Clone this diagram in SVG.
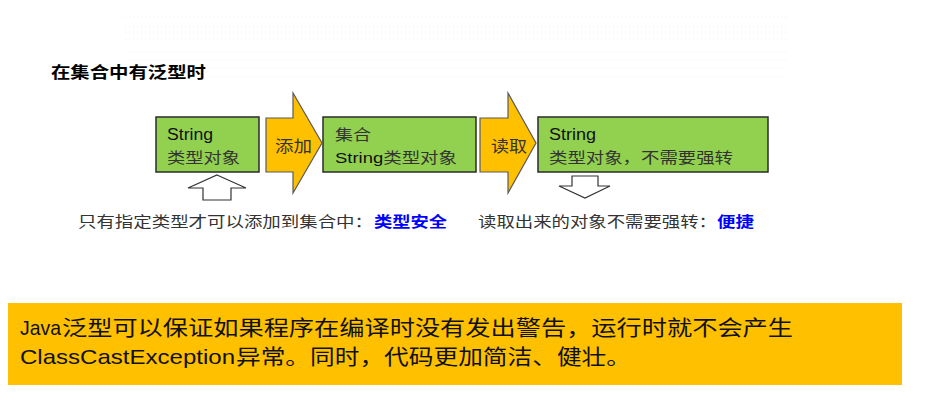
<svg xmlns="http://www.w3.org/2000/svg" width="930" height="405" viewBox="0 0 930 405">
<defs>
<style>
.bg{fill:#ffffff}
.dots{stroke:#f0d4f0;stroke-width:1;stroke-dasharray:1 3;opacity:0.45}
.box{fill:#92D050;stroke:#2b2b2b;stroke-width:1.5}
.blk{fill:#FFC000;stroke:#5a5a5a;stroke-width:1.2}
.hollow{fill:#ffffff;stroke:#333333;stroke-width:1.2}
.lat{font-family:"Liberation Sans",Arial,sans-serif;fill:#111111}
.cjk{font-family:"Noto Sans CJK SC","Liberation Sans",sans-serif;fill:#333333}
.title{font-family:"Noto Sans CJK SC","Liberation Sans",sans-serif;font-weight:bold;font-size:16px;fill:#000000}
.cap{font-family:"Noto Sans CJK SC","Liberation Sans",sans-serif;font-size:15px;fill:#333333}
.blue{fill:#0000ff;font-weight:bold}
.note{fill:#FFC000}
.big{font-size:21px;fill:#111111}
</style>
</defs>
<rect class="bg" x="0" y="0" width="930" height="405"/>
<g id="background-dots">
<line class="dots" x1="125" y1="17" x2="787" y2="17"/>
<line class="dots" x1="125" y1="26" x2="787" y2="26"/>
<line class="dots" x1="125" y1="32" x2="787" y2="32"/>
<line class="dots" x1="125" y1="39" x2="787" y2="39"/>
<line class="dots" x1="125" y1="52" x2="787" y2="52"/>
<line class="dots" x1="125" y1="60" x2="787" y2="60"/>
<line class="dots" x1="210" y1="68" x2="787" y2="68"/>
<line class="dots" x1="210" y1="77" x2="787" y2="77"/>
</g>
<g id="title">
<text class="title" x="51" y="78" textLength="155" lengthAdjust="spacingAndGlyphs">在集合中有泛型时</text>
</g>
<g id="node-string">
<rect class="box" x="156" y="117" width="103" height="55"/>
<text class="lat" x="167" y="140" font-size="16" textLength="46" lengthAdjust="spacingAndGlyphs">String</text>
<text class="cjk" x="167" y="163" font-size="15" textLength="73" lengthAdjust="spacingAndGlyphs">类型对象</text>
</g>
<g id="node-collection">
<rect class="box" x="323" y="117" width="153" height="55"/>
<text class="cjk" x="335" y="140" font-size="15" textLength="36" lengthAdjust="spacingAndGlyphs">集合</text>
<text x="335" y="163" font-size="15" textLength="122" lengthAdjust="spacingAndGlyphs"><tspan class="lat">String</tspan><tspan class="cjk">类型对象</tspan></text>
</g>
<g id="node-result">
<rect class="box" x="538" y="117" width="230" height="55"/>
<text class="lat" x="549" y="140" font-size="16" textLength="47" lengthAdjust="spacingAndGlyphs">String</text>
<text class="cjk" x="549" y="163" font-size="15" textLength="184" lengthAdjust="spacingAndGlyphs">类型对象，不需要强转</text>
</g>
<g id="connectors">
<g id="arrow-add">
<polygon class="blk" points="266,118 293,118 293,93 322,143 293,193 293,172 266,172"/>
<text class="cjk" x="275" y="152" font-size="16" textLength="37" lengthAdjust="spacingAndGlyphs">添加</text>
</g>
<g id="arrow-read">
<polygon class="blk" points="480,118 508,118 508,93 536,143 508,193 508,172 480,172"/>
<text class="cjk" x="491" y="152" font-size="16" textLength="36" lengthAdjust="spacingAndGlyphs">读取</text>
</g>
<polygon class="hollow" points="217,175 246,188 231,188 231,200 203,200 203,188 188,188"/>
<polygon class="hollow" points="572,176 598,176 598,186 610,186 585,198 559,186 572,186"/>
</g>
<g id="caption">
<text class="cap" x="78" y="227" textLength="295" lengthAdjust="spacingAndGlyphs">只有指定类型才可以添加到集合中：</text>
<text class="cap blue" x="374" y="227" textLength="73" lengthAdjust="spacingAndGlyphs">类型安全</text>
<text class="cap" x="478" y="227" textLength="239" lengthAdjust="spacingAndGlyphs">读取出来的对象不需要强转：</text>
<text class="cap blue" x="717" y="227" textLength="37" lengthAdjust="spacingAndGlyphs">便捷</text>
</g>
<g id="note">
<rect class="note" x="8" y="303" width="894" height="82"/>
<text class="lat big" x="20" y="335" textLength="41" lengthAdjust="spacingAndGlyphs">Java</text>
<text class="cjk big" x="62" y="335" textLength="731" lengthAdjust="spacingAndGlyphs">泛型可以保证如果程序在编译时没有发出警告，运行时就不会产生</text>
<text class="lat big" x="20" y="364" textLength="215" lengthAdjust="spacingAndGlyphs">ClassCastException</text>
<text class="cjk big" x="236" y="364" textLength="395" lengthAdjust="spacingAndGlyphs">异常。同时，代码更加简洁、健壮。</text>
</g>
</svg>
